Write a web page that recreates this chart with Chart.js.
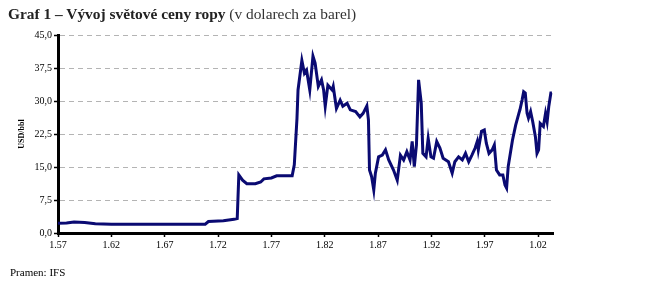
<!DOCTYPE html>
<html>
<head>
<meta charset="utf-8">
<script src="https://cdn.jsdelivr.net/npm/chart.js@4.4.1/dist/chart.umd.min.js"></script>
<style>
  html, body { margin:0; padding:0; background:#fff; }
  #wrap { position:relative; width:658px; height:296px; overflow:hidden; }
  #title { position:absolute; left:8px; top:5px; font-family:"Liberation Serif", serif; font-size:15.4px; color:#222; white-space:nowrap; }
  #title b { font-weight:bold; }
  #title span { color:#333; }
  #source { position:absolute; left:10px; top:266px; font-family:"Liberation Serif", serif; font-size:11px; color:#000; }
  canvas { position:absolute; left:0; top:0; }
</style>
</head>
<body>
<div id="wrap">
  <canvas id="c" width="658" height="296"></canvas>
  <div id="title"><b>Graf 1 – Vývoj světové ceny ropy</b> <span>(v dolarech za barel)</span></div>
  <div id="source">Pramen: IFS</div>
</div>
<script>
// Time (decimal year) of each read point
const years = [
  1957.0, 1957.8, 1958.5, 1959.5, 1960.5, 1962.0, 1965.0, 1968.0, 1970.8,
  1971.1, 1972.5, 1973.5, 1973.8, 1973.95, 1974.3, 1974.7, 1975.5, 1976.0, 1976.3, 1977.0, 1977.5, 1978.95,
  1979.15, 1979.4, 1979.5, 1979.86, 1980.1, 1980.3, 1980.6, 1980.9, 1981.1, 1981.4, 1981.7, 1981.9,
  1982.05, 1982.3, 1982.7, 1982.8, 1983.1, 1983.45, 1983.7, 1984.1, 1984.4, 1984.9, 1985.3, 1985.6,
  1985.95, 1986.1, 1986.2, 1986.4, 1986.6, 1986.75, 1987.05, 1987.4, 1987.7, 1988.0, 1988.45, 1988.8,
  1989.1, 1989.4, 1989.7, 1990.0, 1990.2, 1990.4, 1990.6, 1990.8, 1991.05, 1991.2, 1991.5, 1991.7,
  1991.96, 1992.2, 1992.5, 1992.8, 1993.1, 1993.6, 1993.95, 1994.2, 1994.55, 1994.9, 1995.2, 1995.5,
  1995.8, 1996.1, 1996.3, 1996.4, 1996.7, 1996.96, 1997.15, 1997.4, 1997.7, 1997.9, 1998.1, 1998.4,
  1998.7, 1998.9, 1999.05, 1999.2, 1999.6, 1999.9, 2000.2, 2000.3, 2000.5, 2000.65, 2000.8, 2000.97,
  2001.1, 2001.3, 2001.5, 2001.75, 2001.9, 2002.05, 2002.2, 2002.5, 2002.7, 2002.85, 2003.0, 2003.2, 2003.3
];
// Price, USD per barrel
const prices = [
  2.2, 2.3, 2.5, 2.4, 2.1, 2.0, 2.0, 2.0, 2.0,
  2.6, 2.8, 3.1, 3.3, 13.2, 12.0, 11.2, 11.2, 11.6, 12.3, 12.5, 13.0, 13.0,
  15.5, 26.0, 32.5, 39.2, 36.3, 37.0, 32.5, 40.2, 38.6, 33.3, 34.8, 32.5,
  28.8, 33.6, 32.5, 33.3, 28.3, 30.2, 28.8, 29.5, 28.0, 27.6, 26.4, 27.2,
  28.9, 25.7, 14.3, 12.8, 9.8, 13.6, 17.3, 17.7, 18.9, 16.6, 14.3, 12.0,
  17.7, 16.6, 18.5, 16.6, 20.8, 15.1, 20.0, 34.8, 29.5, 18.1, 17.3, 21.5,
  17.3, 17.0, 20.8, 19.3, 17.0, 16.2, 13.6, 16.2, 17.3, 16.6, 18.1, 16.2,
  17.7, 19.3, 20.8, 18.9, 23.1, 23.4, 20.4, 18.1, 18.9, 20.0, 14.3, 13.2,
  13.2, 10.9, 10.2, 15.1, 21.1, 24.5, 27.2, 28.0, 30.2, 32.1, 31.8, 27.2,
  26.1, 27.6, 25.3, 21.9, 18.1, 18.9, 24.9, 24.2, 27.2, 25.3, 28.7, 31.8, 31.8
];
const xTickYears = [1957, 1962, 1967, 1972, 1977, 1982, 1987, 1992, 1997, 2002];
const xTickLabels = ['1.57', '1.62', '1.67', '1.72', '1.77', '1.82', '1.87', '1.92', '1.97', '1.02'];
const yTickValues = [0, 7.5, 15, 22.5, 30, 37.5, 45];
const yTickLabels = ['0,0', '7,5', '15,0', '22,5', '30,0', '37,5', '45,0'];

const points = years.map((x, i) => ({ x: x, y: prices[i] }));
const tickFont = { family: 'Liberation Serif', size: 10 };

new Chart(document.getElementById('c'), {
  type: 'line',
  data: {
    datasets: [{
      data: points,
      borderColor: '#0a0a72',
      borderWidth: 3,
      pointRadius: 0,
      tension: 0,
      fill: false
    }]
  },
  options: {
    responsive: false,
    animation: false,
    events: [],
    layout: { padding: { left: 0, top: 35, right: 105, bottom: 43 } },
    plugins: { legend: { display: false }, tooltip: { enabled: false } },
    scales: {
      x: {
        type: 'linear',
        min: 1957,
        max: 2003.4,
        afterBuildTicks: s => { s.ticks = xTickYears.map(v => ({ value: v })); },
        afterFit: s => { s.height = 20; },
        ticks: {
          color: '#000', font: tickFont, padding: 2, maxRotation: 0, autoSkip: false,
          callback: v => { const i = xTickYears.indexOf(v); return i >= 0 ? xTickLabels[i] : ''; }
        },
        grid: { drawOnChartArea: false, drawTicks: true, tickLength: 4, tickColor: '#000', tickWidth: 1.5 },
        border: { display: true, color: '#000', width: 3 }
      },
      y: {
        min: 0,
        max: 45,
        afterBuildTicks: s => { s.ticks = yTickValues.map(v => ({ value: v })); },
        afterFit: s => { s.width = 58; },
        ticks: {
          color: '#000', font: tickFont, padding: 2,
          callback: v => { const i = yTickValues.indexOf(v); return i >= 0 ? yTickLabels[i] : ''; }
        },
        title: {
          display: true, text: 'USD/bbl', color: '#000',
          font: { family: 'Liberation Serif', size: 8, weight: 'bold' },
          padding: { top: 17, bottom: 0 }
        },
        grid: {
          color: '#b4b4b4', lineWidth: 1, drawTicks: true, tickLength: 4, tickColor: '#000', tickWidth: 1.5
        },
        border: { display: true, color: '#000', width: 3, dash: [5, 4] }
      }
    }
  }
});
</script>
</body>
</html>
